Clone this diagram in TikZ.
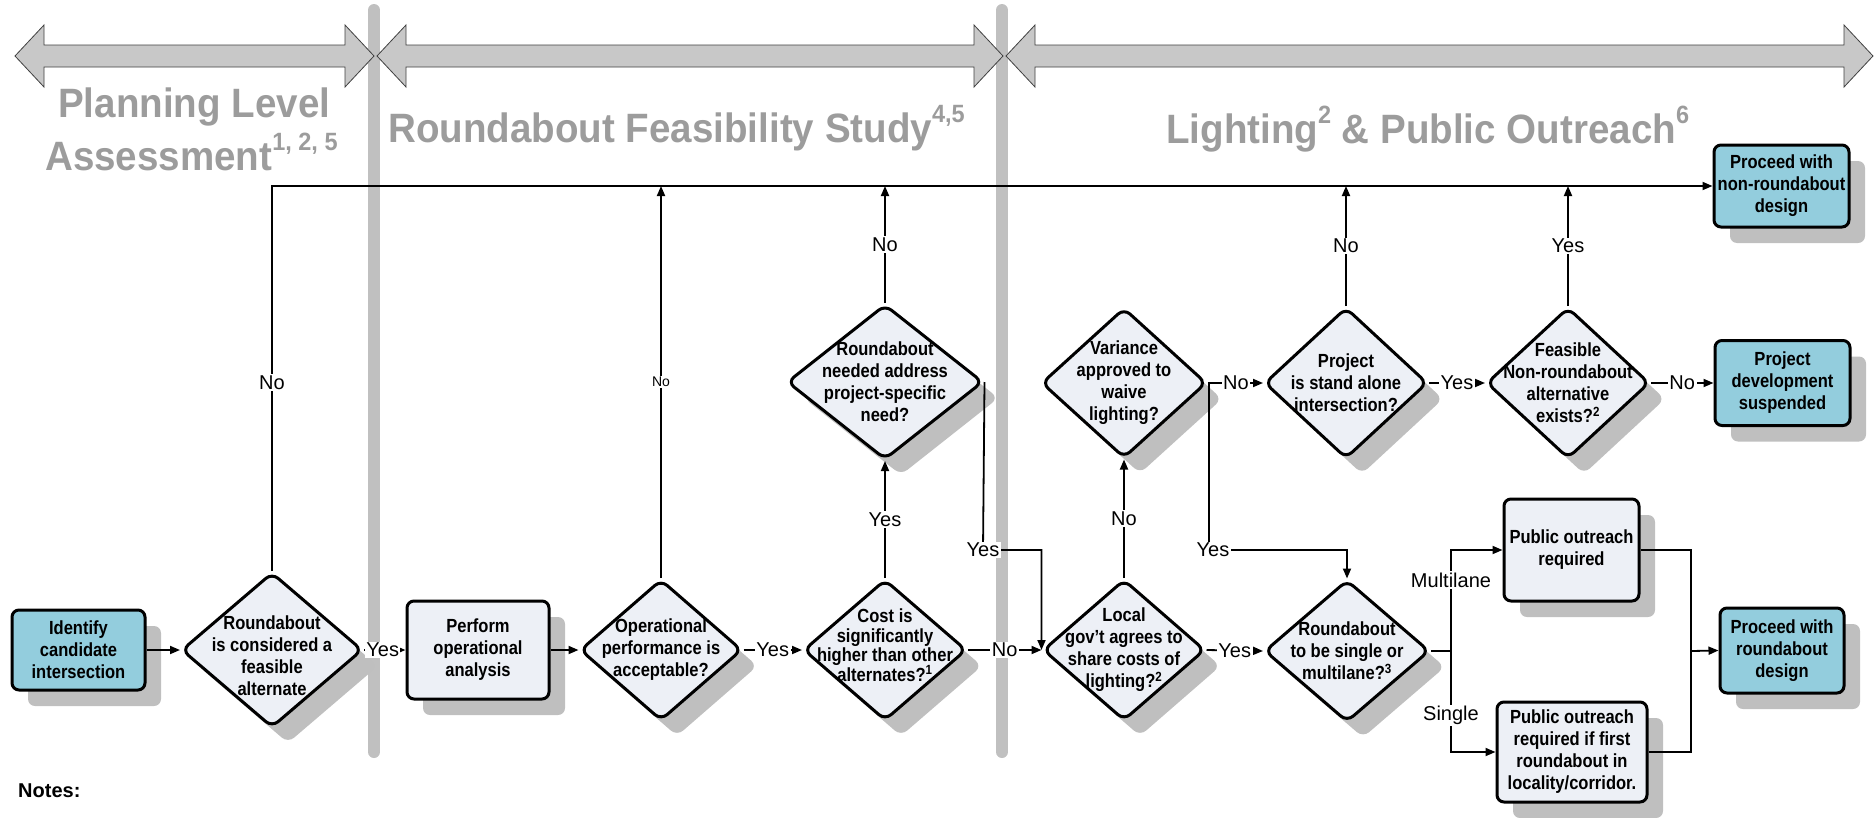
\documentclass[tikz,border=0pt]{standalone}
\usepackage{fontspec}
\setmainfont{Liberation Sans}
\newfontfamily\narrowfont[FakeStretch=0.87]{Liberation Sans}
\newfontfamily\titlefont[FakeStretch=0.94]{Liberation Sans}
\usetikzlibrary{shapes.geometric,arrows.meta,shadows}
\definecolor{tealbox}{HTML}{93CDDD}
\definecolor{lightbox}{HTML}{EDF0F6}
\definecolor{shadowgray}{HTML}{BFBFBF}
\definecolor{bargray}{HTML}{C0C0C0}
\definecolor{titlegray}{HTML}{9C9C9C}
\definecolor{hdrfill}{HTML}{C8C8C8}
\definecolor{hdrline}{HTML}{404040}
\newcommand\nodetxt{\narrowfont\bfseries\fontsize{19}{22}\selectfont}
\newcommand\nodetxttight{\narrowfont\bfseries\fontsize{19}{19.5}\selectfont}
\newcommand\labtxt{\fontsize{20}{24}\selectfont}
\newcommand\smalllabtxt{\fontsize{14}{16}\selectfont}
\newcommand\titletxt{\titlefont\bfseries\fontsize{41}{50}\selectfont}
\newcommand\tsup[1]{\raisebox{20pt}{\fontsize{25}{25}\selectfont #1}}
\tikzset{
 shad/.style={drop shadow={shadow xshift=16pt, shadow yshift=-16pt, fill=shadowgray, opacity=1}},
 boxbase/.style={rectangle, rounded corners=7pt, draw=black, line width=3pt, shad, inner sep=0pt, align=center, font=\nodetxt},
 tbox/.style={boxbase, fill=tealbox},
 gbox/.style={boxbase, fill=lightbox},
 dia/.style={diamond, draw=black, line width=3pt, rounded corners=8pt, fill=lightbox, shad, inner sep=0pt},
 dtext/.style={align=center, font=\nodetxt, inner sep=0pt},
 conn/.style={line width=1.8pt, -{Triangle[length=10pt,width=8pt]}},
 plain/.style={line width=1.8pt},
 lab/.style={fill=white, inner sep=1.5pt, font=\labtxt},
 title/.style={text=titlegray, font=\titletxt, anchor=base west, inner sep=0pt},
 hdr/.style={fill=hdrfill, draw=hdrline, line width=0.8pt, line join=miter},
}
\begin{document}
\begin{tikzpicture}[x=1pt,y=-1pt]
\useasboundingbox (0,0) rectangle (1875,817);
% phase separators
\draw[line width=12pt, bargray, line cap=round] (374,10) -- (374,752);
\draw[line width=12pt, bargray, line cap=round] (1002,10) -- (1002,752);
% header arrows
\draw[hdr] (15,56) -- (44,25) -- (44,45) -- (345,45) -- (345,25) -- (374,56) -- (345,87) -- (345,67) -- (44,67) -- (44,87) -- cycle;
\draw[hdr] (377,56) -- (406,25) -- (406,45) -- (974,45) -- (974,25) -- (1003,56) -- (974,87) -- (974,67) -- (406,67) -- (406,87) -- cycle;
\draw[hdr] (1006,56) -- (1035,25) -- (1035,45) -- (1844,45) -- (1844,25) -- (1873,56) -- (1844,87) -- (1844,67) -- (1035,67) -- (1035,87) -- cycle;
% titles
\node[title] (t1a) at (58,117) {Planning Level};
\node[title] (t1b) at (45,170) {Assessment\tsup{1, 2, 5}};
\node[title] (t2) at (388,142) {Roundabout Feasibility Study\tsup{4,5}};
\node[title] (t3) at (1166,143) {Lighting\tsup{2} \& Public Outreach\tsup{6}};
% boxes
\node[tbox, minimum width=133pt, minimum height=80pt] (B1) at (78.5,650) {Identify\\candidate\\intersection};
\node[gbox, minimum width=142pt, minimum height=98pt] (B2) at (478,650) {Perform\\operational\\analysis};
\node[gbox, minimum width=135pt, minimum height=102pt] (PO1) at (1571.5,550) {Public outreach\\required};
\node[gbox, minimum width=150pt, minimum height=100pt] (PO2) at (1572,752) {Public outreach\\required if first\\roundabout in\\locality/corridor.};
\node[tbox, minimum width=135pt, minimum height=82pt] (F1) at (1781.5,186) {Proceed with\\non-roundabout\\design};
\node[tbox, minimum width=135pt, minimum height=85pt] (F2) at (1782.5,383) {Project\\development\\suspended};
\node[tbox, minimum width=124pt, minimum height=85pt] (F3) at (1782,650.5) {Proceed with\\roundabout\\design};
% diamonds
\node[dia, minimum width=181pt, minimum height=155pt] (D1) at (272,650) {};
\node[dtext] (D1t) at (272,656) {Roundabout\\is considered a\\feasible\\alternate};
\node[dia, minimum width=162pt, minimum height=141pt] (D2) at (661,650) {};
\node[dtext] (D2t) at (D2) {Operational\\performance is\\acceptable?};
\node[dia, minimum width=163pt, minimum height=141pt] (D3) at (885,650) {};
\node[dtext, font=\nodetxttight] (D3t) at (885,645) {Cost is\\significantly\\higher than other\\alternates?\textsuperscript{1}};
\node[dia, minimum width=162pt, minimum height=141pt] (D4) at (1124,650) {};
\node[dtext] (D4t) at (D4) {Local\\gov’t agrees to\\share costs of\\lighting?\textsuperscript{2}};
\node[dia, minimum width=165pt, minimum height=142pt] (D5) at (1347,651) {};
\node[dtext] (D5t) at (D5) {Roundabout\\to be single or\\multilane?\textsuperscript{3}};
\node[dia, minimum width=196pt, minimum height=155pt] (D6) at (885,382) {};
\node[dtext] (D6t) at (D6) {Roundabout\\needed address\\project-specific\\need?};
\node[dia, minimum width=165pt, minimum height=150pt] (D7) at (1124,383) {};
\node[dtext] (D7t) at (D7) {Variance\\approved to\\waive\\lighting?};
\node[dia, minimum width=163pt, minimum height=151pt] (D8) at (1346,383) {};
\node[dtext] (D8t) at (D8) {Project\\is stand alone\\intersection?};
\node[dia, minimum width=163pt, minimum height=151pt] (D9) at (1568,383) {};
\node[dtext] (D9t) at (D9) {Feasible\\Non-roundabout\\alternative\\exists?\textsuperscript{2}};
% helper coordinates
\coordinate (k1) at (983,550);
\coordinate (k2) at (1209,383);
\coordinate (k3) at (1209,550);
\coordinate (sp) at (1451,651);
\coordinate (mg) at (1691,651);
% main row
\draw[conn] (B1.east) -- (D1.west);
\draw[conn] (D1.east) -- (B2.west) node[lab, pos=0.45] {Yes};
\draw[conn] (B2.east) -- (D2.west);
\draw[conn] (D2.east) -- (D3.west) node[lab, midway] {Yes};
\draw[conn] (D3.east) -- (D4.west) node[lab, midway] {No};
\draw[conn] (D4.east) -- (D5.west) node[lab, midway] {Yes};
% upward branches
\draw[conn] (D1.north) |- (F1.west) node[lab, pos=0.245] {No};
\draw[conn] (D2.north) -- (D2.north |- F1.west) node[lab, midway, font=\smalllabtxt] {No};
\draw[conn] (D3.north) -- (D6.south) node[lab, midway] {Yes};
\draw[conn] (D6.north) -- (D6.north |- F1.west) node[lab, midway] {No};
\draw[conn] (D6.east) -- (k1) -| (D4.west);
\node[lab] (y6) at (k1) {Yes};
\draw[conn] (D4.north) -- (D7.south) node[lab, midway] {No};
\draw[plain] (D7.east) -- (k2);
\draw[conn] (k2) -- (D8.west) node[lab, midway] {No};
\draw[conn] (k2) -- (k3) -| (D5.north);
\node[lab] (y7) at ([xshift=4pt]k3) {Yes};
\draw[conn] (D8.north) -- (D8.north |- F1.west) node[lab, midway] {No};
\draw[conn] (D8.east) -- (D9.west) node[lab, midway] {Yes};
\draw[conn] (D9.north) -- (D9.north |- F1.west) node[lab, midway] {Yes};
\draw[conn] (D9.east) -- (F2.west) node[lab, midway] {No};
% lane split
\draw[plain] (D5.east) -- (sp);
\draw[conn] (sp) |- (PO1.west) node[lab, pos=0.35] {Multilane};
\draw[conn] (sp) |- (PO2.west) node[lab, pos=0.32] {Single};
\draw[plain] (PO1.east) -| (mg);
\draw[plain] (PO2.east) -| (mg);
\draw[conn] (mg) -- (F3.west);
% notes
\node[anchor=base west, inner sep=0pt, font=\bfseries\fontsize{20}{24}\selectfont] (notes) at (18,797) {Notes:};
\end{tikzpicture}
\end{document}
